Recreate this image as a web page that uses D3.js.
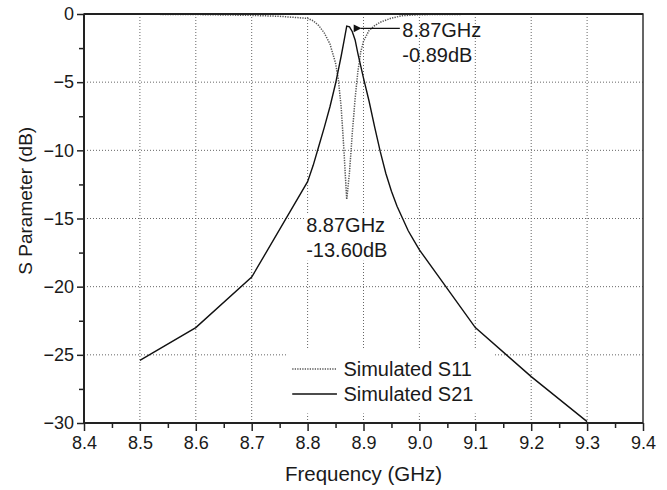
<!DOCTYPE html>
<html>
<head>
<meta charset="utf-8">
<script src="https://cdn.jsdelivr.net/npm/d3@7/dist/d3.min.js"></script>
<style>
html,body{margin:0;padding:0;background:#fff;}
text{font-family:"Liberation Sans",Arial,sans-serif;fill:#1a1a1a;}
</style>
</head>
<body>
<svg id="chart" width="667" height="490"></svg>
<script>
// ---- data ----
const s21Freq = [8.5, 8.6, 8.7, 8.8, 8.81, 8.82, 8.83, 8.84, 8.85, 8.86, 8.865, 8.87, 8.875, 8.88, 8.885, 8.89, 8.895, 8.9, 8.91, 8.92, 8.93, 8.94, 8.95, 8.96, 8.97, 8.98, 8.99, 9.0, 9.1, 9.2, 9.3];
const s21dB   = [-25.4, -23.0, -19.3, -12.3, -11.1, -9.7, -8.3, -6.8, -5.1, -3.1, -2.0, -0.89, -0.95, -1.3, -1.9, -2.9, -3.8, -4.7, -6.4, -8.3, -10.1, -11.7, -13.0, -14.1, -15.0, -15.9, -16.6, -17.3, -23.0, -26.6, -29.9];
const s11Freq = [8.5, 8.6, 8.7, 8.75, 8.8, 8.81, 8.82, 8.83, 8.84, 8.845, 8.85, 8.855, 8.86, 8.865, 8.87, 8.875, 8.88, 8.885, 8.89, 8.895, 8.9, 8.91, 8.92, 8.93, 8.95, 8.97, 9.0, 9.1, 9.2, 9.3];
const s11dB   = [-0.02, -0.04, -0.1, -0.17, -0.32, -0.5, -0.85, -1.4, -2.2, -2.9, -3.6, -4.8, -6.8, -10.0, -13.6, -11.6, -8.7, -6.2, -4.2, -2.8, -2.0, -1.2, -0.85, -0.6, -0.3, -0.12, -0.05, -0.02, -0.01, -0.01];
const xTicks = [8.4, 8.5, 8.6, 8.7, 8.8, 8.9, 9.0, 9.1, 9.2, 9.3, 9.4];
const yTicks = [0, -5, -10, -15, -20, -25, -30];
const seriesNames = ["Simulated S11", "Simulated S21"];
const peakLabel = ["8.87GHz", "-0.89dB"];
const dipLabel = ["8.87GHz", "-13.60dB"];
const xTitle = "Frequency (GHz)";
const yTitle = "S Parameter (dB)";

// ---- layout ----
const svg = d3.select("#chart");
const L = 84, T = 14, R = 643, B = 423;
const x = d3.scaleLinear().domain([8.4, 9.4]).range([L, R]);
const y = d3.scaleLinear().domain([-30, 0]).range([B, T]);

const g = svg.append("g");

// grid
g.append("g").selectAll("line").data(xTicks.slice(1, -1)).join("line")
  .attr("x1", d => x(d)).attr("x2", d => x(d)).attr("y1", T).attr("y2", B)
  .attr("stroke", "#666").attr("stroke-width", 1).attr("stroke-dasharray", "1,2");
g.append("g").selectAll("line").data(yTicks.slice(1, -1)).join("line")
  .attr("y1", d => y(d)).attr("y2", d => y(d)).attr("x1", L).attr("x2", R)
  .attr("stroke", "#666").attr("stroke-width", 1).attr("stroke-dasharray", "1,2");

// white boxes (legend and dip annotation) hiding grid
g.append("rect").attr("x", x(8.765)).attr("y", y(-24.5)).attr("width", x(9.135) - x(8.765)).attr("height", y(-29.3) - y(-24.5)).attr("fill", "#fff");
g.append("rect").attr("x", x(8.7975)).attr("y", y(-14.6)).attr("width", x(8.96) - x(8.7975)).attr("height", y(-18.1) - y(-14.6)).attr("fill", "#fff");

// lines
const line = d3.line().x(d => x(d[0])).y(d => y(d[1]));
const s21 = s21Freq.map((f, i) => [f, s21dB[i]]);
const s11 = s11Freq.map((f, i) => [f, s11dB[i]]);
g.append("path").datum(s11).attr("d", line).attr("fill", "none")
  .attr("stroke", "#555").attr("stroke-width", 1.5).attr("stroke-dasharray", "1.3,1.2");
g.append("path").datum(s21).attr("d", line).attr("fill", "none")
  .attr("stroke", "#111").attr("stroke-width", 1.4);

// axes
const xAxis = d3.axisBottom(x).tickValues(xTicks).tickSize(8).tickPadding(5).tickFormat(d3.format(".1f"));
const xMinor = d3.axisBottom(x).tickValues(xTicks.slice(0, -1).map(d => d + 0.05)).tickSize(5).tickFormat("");
const yAxis = d3.axisLeft(y).tickValues(yTicks).tickSize(7).tickPadding(3).tickFormat(d3.format("d"));
const yMinor = d3.axisLeft(y).tickValues(yTicks.slice(1).map(d => d + 2.5)).tickSize(5).tickFormat("");

function style(sel, fs) {
  sel.select(".domain").remove();
  sel.selectAll("line").attr("stroke", "#222").attr("stroke-width", 1.5);
  sel.selectAll("text").style("font-size", fs + "px").attr("fill", "#1a1a1a");
}
g.append("g").attr("transform", `translate(0,${B})`).call(xAxis).call(s => style(s, 18));
g.append("g").attr("transform", `translate(0,${B})`).call(xMinor).call(s => style(s, 18));
g.append("g").attr("transform", `translate(${L},0)`).call(yAxis).call(s => style(s, 18));
g.append("g").attr("transform", `translate(${L},0)`).call(yMinor).call(s => style(s, 18));

// frame
g.append("rect").attr("x", L).attr("y", T).attr("width", R - L).attr("height", B - T)
  .attr("fill", "none").attr("stroke", "#333").attr("stroke-width", 1.5);
g.append("path").attr("d", `M${L},${T}V${B}H${R}`).attr("fill", "none").attr("stroke", "#222").attr("stroke-width", 2);
g.append("line").attr("x1", L).attr("x2", R).attr("y1", T).attr("y2", T).attr("stroke", "#222").attr("stroke-width", 2);

// titles
svg.append("text").attr("x", (L + R) / 2).attr("y", 481).attr("text-anchor", "middle")
  .style("font-size", "20.5px").text(xTitle);
svg.append("text").attr("transform", `translate(32,${y(-13.7)}) rotate(-90)`).attr("text-anchor", "middle")
  .style("font-size", "19px").text(yTitle);

// peak annotation with arrow
svg.append("defs").append("marker").attr("id", "ah").attr("viewBox", "0 0 10 10")
  .attr("refX", 1).attr("refY", 5).attr("markerWidth", 8).attr("markerHeight", 6).attr("orient", "auto")
  .append("path").attr("d", "M10,0L0,5L10,10z").attr("fill", "#111");
g.append("line").attr("x1", x(8.965)).attr("x2", x(8.895)).attr("y1", y(-1.05)).attr("y2", y(-1.05))
  .attr("stroke", "#111").attr("stroke-width", 1.3).attr("marker-end", "url(#ah)");
g.append("text").attr("x", x(8.9695)).attr("y", 37).style("font-size", "20px").text(peakLabel[0]);
g.append("text").attr("x", x(8.9695)).attr("y", 62).style("font-size", "20px").text(peakLabel[1]);

// dip annotation
g.append("text").attr("x", x(8.7975)).attr("y", 232).style("font-size", "20px").text(dipLabel[0]);
g.append("text").attr("x", x(8.7975)).attr("y", 257).style("font-size", "20px").text(dipLabel[1]);

// legend
const lg = g.append("g");
lg.append("line").attr("x1", x(8.7725)).attr("x2", x(8.8525)).attr("y1", 369).attr("y2", 369)
  .attr("stroke", "#555").attr("stroke-width", 1.5).attr("stroke-dasharray", "1.3,1.2");
lg.append("line").attr("x1", x(8.7725)).attr("x2", x(8.8525)).attr("y1", 394).attr("y2", 394)
  .attr("stroke", "#111").attr("stroke-width", 1.4);
lg.append("text").attr("x", x(8.864)).attr("y", 376).style("font-size", "20px").text(seriesNames[0]);
lg.append("text").attr("x", x(8.864)).attr("y", 401).style("font-size", "20px").text(seriesNames[1]);
</script>
</body>
</html>
